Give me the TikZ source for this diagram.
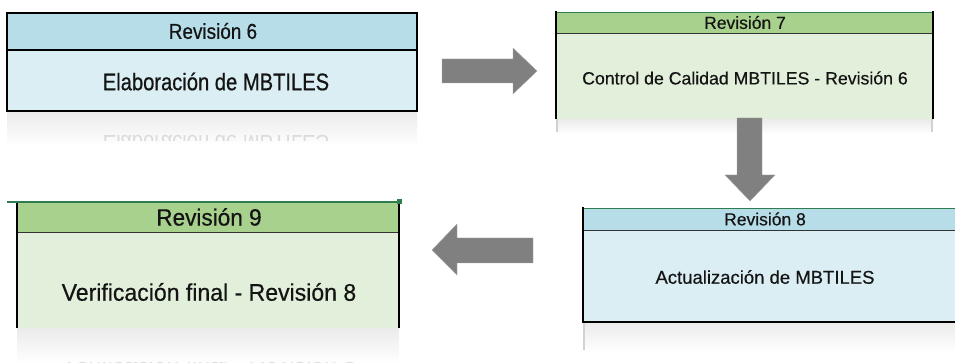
\documentclass[tikz,border=0pt]{standalone}
\usepackage{fontspec}
\setmainfont{Liberation Sans}
\newfontfamily\regfont[FakeBold=0.4]{Liberation Sans}
\newfontfamily\condfont[FakeStretch=0.84,FakeBold=0.6]{Liberation Sans}
\newfontfamily\headfont[FakeStretch=0.88,FakeBold=0.6]{Liberation Sans}
\newfontfamily\wideish[FakeStretch=0.96,FakeBold=0.5]{Liberation Sans}
\newfontfamily\reflfont[FakeStretch=0.84]{Liberation Sans}
\newfontfamily\reflwide[FakeStretch=0.96]{Liberation Sans}
\definecolor{hdrblue}{HTML}{B7DDE8}
\definecolor{bodyblue}{HTML}{DAEEF3}
\definecolor{hdrgreen}{HTML}{A9D18E}
\definecolor{bodygreen}{HTML}{E2EFDA}
\definecolor{lineGreen}{HTML}{2E7D4F}
\definecolor{arrowgray}{HTML}{808080}
\definecolor{txtcol}{HTML}{141414}
\tikzset{
  blockarrow/.style={fill=arrowgray, draw=gray!70, line width=0.4pt},
  edge/.style={line width=1.6pt, black},
  thinedge/.style={line width=0.8pt, black!80},
  greenedge/.style={line width=0.9pt, lineGreen},
  refl/.style={top color=gray!16, bottom color=white, draw=none},
  txt/.style={inner sep=0pt, anchor=center, text=txtcol},
}
\begin{document}
\begin{tikzpicture}[x=1pt,y=-1pt]
\useasboundingbox (0,0) rectangle (955,363);

% ---------- Box 1: Revision 6 ----------
\shade[refl] (7,112) rectangle (417,146);
\begin{scope}
  \clip (7,112) rectangle (417,141);
  \node[txt, yscale=-1, text=gray!28, font=\reflfont\fontsize{24}{28}\selectfont] (r6refl) at (216,144) {Elaboración de MBTILES};
\end{scope}
\fill[hdrblue] (7,13) rectangle (417,50);
\fill[bodyblue] (7,50) rectangle (417,111);
\draw[line width=1.2pt] (7,50) -- (417,50);
\draw[edge, line width=2pt] (7,13) rectangle (417,111);
\node[txt, font=\headfont\fontsize{21.5}{25}\selectfont] (r6h) at (213,31) {Revisión 6};
\node[txt, font=\condfont\fontsize{24}{28}\selectfont] (r6b) at (216,81.5) {Elaboración de MBTILES};

% ---------- Box 2: Revision 7 ----------
\shade[refl] (556,119) rectangle (933,134);
\draw[gray!35, line width=1.2pt] (557,119) -- (557,132);
\draw[gray!35, line width=1.2pt] (932,119) -- (932,132);
\fill[hdrgreen] (556,12) rectangle (933,33);
\fill[bodygreen] (556,33) rectangle (933,119);
\draw[greenedge] (556,12) -- (933,12);
\draw[thinedge] (556,33) -- (933,33);
\draw[edge] (556,11) -- (556,119);
\draw[edge] (933,11) -- (933,119);
\node[txt, font=\regfont\fontsize{17.5}{20}\selectfont] (r7h) at (745,22.5) {Revisión 7};
\node[txt, font=\regfont\fontsize{17.7}{21}\selectfont] (r7b) at (745,78) {Control de Calidad MBTILES - Revisión 6};

% ---------- Box 4: Revision 8 ----------
\shade[refl] (583,322) rectangle (955,352);
\draw[gray!35, line width=1.2pt] (584,322) -- (584,350);
\fill[hdrblue] (583,208) rectangle (955,230);
\fill[bodyblue] (583,230) rectangle (955,322);
\draw[greenedge] (583,208) -- (955,208);
\draw[thinedge] (583,230) -- (955,230);
\draw[edge] (583,207) -- (583,322) -- (955,322);
\node[txt, font=\regfont\fontsize{17.5}{20}\selectfont] (r8h) at (765,219) {Revisión 8};
\node[txt, font=\regfont\fontsize{18.5}{21}\selectfont] (r8b) at (765,277) {Actualización de MBTILES};

% ---------- Box 3: Revision 9 ----------
\shade[refl] (17,328) rectangle (399,363);
\begin{scope}
  \clip (17,328) rectangle (399,363);
  \node[txt, yscale=-1, text=gray!25, font=\reflwide\fontsize{24}{28}\selectfont] (r9refl) at (209,371) {Verificación final - Revisión 8};
\end{scope}
\fill[hdrgreen] (17,202) rectangle (399,232);
\fill[bodygreen] (17,232) rectangle (399,328);
\draw[thinedge] (17,232) -- (399,232);
\draw[edge] (17,202) -- (17,328);
\draw[edge, line width=2pt] (399,202) -- (399,328);
\draw[line width=1.8pt, lineGreen] (7,202) -- (400,202);
\fill[lineGreen] (397,199) rectangle (402,204);
\node[txt, font=\wideish\fontsize{23.5}{27}\selectfont] (r9h) at (209,217) {Revisión 9};
\node[txt, font=\wideish\fontsize{24}{28}\selectfont] (r9b) at (209,292) {Verificación final - Revisión 8};

% ---------- Block arrows ----------
\draw[blockarrow] (442,59) -- (513,59) -- (513,48) -- (537,71) -- (513,94) -- (513,83) -- (442,83) -- cycle;
\draw[blockarrow] (737,118) -- (762,118) -- (762,175) -- (775,175) -- (750,201) -- (725,175) -- (737,175) -- cycle;
\draw[blockarrow] (533,238) -- (457,238) -- (457,224) -- (432,250) -- (457,275) -- (457,263) -- (533,263) -- cycle;
\end{tikzpicture}
\end{document}
